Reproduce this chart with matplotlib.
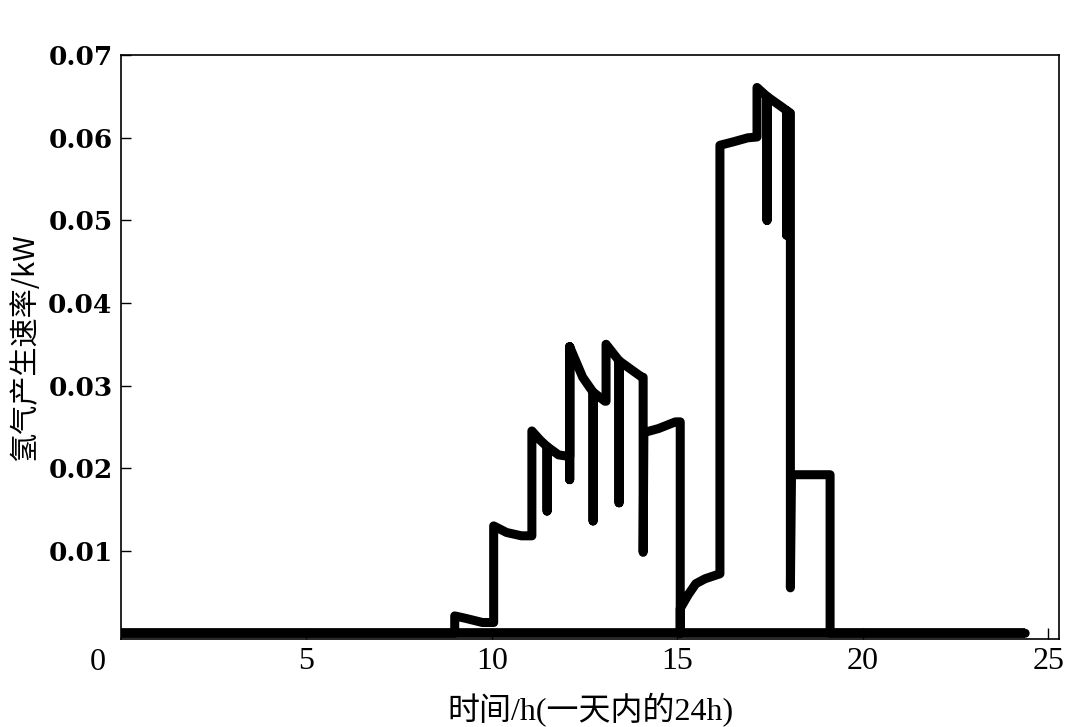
import matplotlib
matplotlib.use("Agg")
import matplotlib.pyplot as plt

# Hydrogen production rate over a day (main path)
hours = [0.0, 9.0, 9.0, 9.3, 9.75, 10.05, 10.05, 10.4, 10.8, 11.08, 11.08,
         11.3, 11.49, 11.49, 11.49, 11.8, 12.1, 12.1, 12.1, 12.1, 12.45,
         12.73, 12.73, 12.73, 13.05, 13.08, 13.08, 13.43, 13.43, 13.43,
         13.8, 14.05, 14.08, 14.08, 14.1, 14.5, 14.95, 15.08, 15.08, 15.08,
         15.3, 15.5, 15.75, 16.15, 16.15, 16.5, 16.9, 17.15, 17.15, 17.42,
         17.42, 17.42, 17.8, 17.95, 17.95, 17.95, 18.05, 18.05, 18.08,
         19.12, 19.12, 24.38]
rate = [0.0, 0.0, 0.0021, 0.0018, 0.0013, 0.0013, 0.0130, 0.0122, 0.0118,
        0.0118, 0.0245, 0.0234, 0.0226, 0.0148, 0.0226, 0.0216, 0.0214,
        0.0347, 0.0186, 0.0347, 0.0310, 0.0292, 0.0136, 0.0292, 0.0281,
        0.0281, 0.0350, 0.0330, 0.0158, 0.0330, 0.0318, 0.0310, 0.0310,
        0.0098, 0.0243, 0.0248, 0.0256, 0.0256, 0.0, 0.0030, 0.0047,
        0.0060, 0.0066, 0.0072, 0.0591, 0.0595, 0.0600, 0.0601, 0.0661,
        0.0650, 0.0500, 0.0650, 0.0638, 0.0633, 0.0482, 0.0633, 0.0630,
        0.0055, 0.0192, 0.0192, 0.0, 0.0]

# baseline series at zero across the day
base_hours = [0.0, 24.38]
base_rate = [0.0, 0.0]

xticks = [5, 10, 15, 20, 25]
yticks = [0.01, 0.02, 0.03, 0.04, 0.05, 0.06, 0.07]
ytick_labels = ["0.01", "0.02", "0.03", "0.04", "0.05", "0.06", "0.07"]

fig = plt.figure(figsize=(10.7, 7.27), dpi=100)
ax = fig.add_axes([0.113, 0.121, 0.877, 0.803])

ax.plot(base_hours, base_rate, color="black", lw=7, solid_capstyle="butt")
ax.plot(hours, rate, color="black", lw=6.5, solid_joinstyle="round",
        solid_capstyle="round")

ax.set_xlim(0, 25.3)
ax.set_ylim(-0.0007, 0.0697)

ax.set_xticks(xticks)
ax.set_xticklabels([str(v) for v in xticks], fontfamily="Liberation Serif",
                   fontsize=23)
ax.set_yticks(yticks)
ax.set_yticklabels(ytick_labels, fontfamily="DejaVu Serif", fontweight="bold",
                   fontsize=19)
ax.tick_params(axis="both", direction="in", length=8, width=1, pad=6,
               top=False, right=False)
ax.tick_params(axis="y", length=7)

for s in ax.spines.values():
    s.set_linewidth(1.2)

ax.text(-0.025, -0.04, "0", transform=ax.transAxes, ha="center", va="center",
        fontfamily="Liberation Serif", fontsize=23)

ax.set_xlabel("时间/h(一天内的24h)", family=["Liberation Serif", "Noto Sans CJK SC"],
              fontsize=23, labelpad=12)
ax.set_ylabel("氢气产生速率/kW", family=["Noto Sans CJK SC", "DejaVu Sans"],
              fontsize=21, labelpad=6)

fig.savefig("out.png", dpi=100)
